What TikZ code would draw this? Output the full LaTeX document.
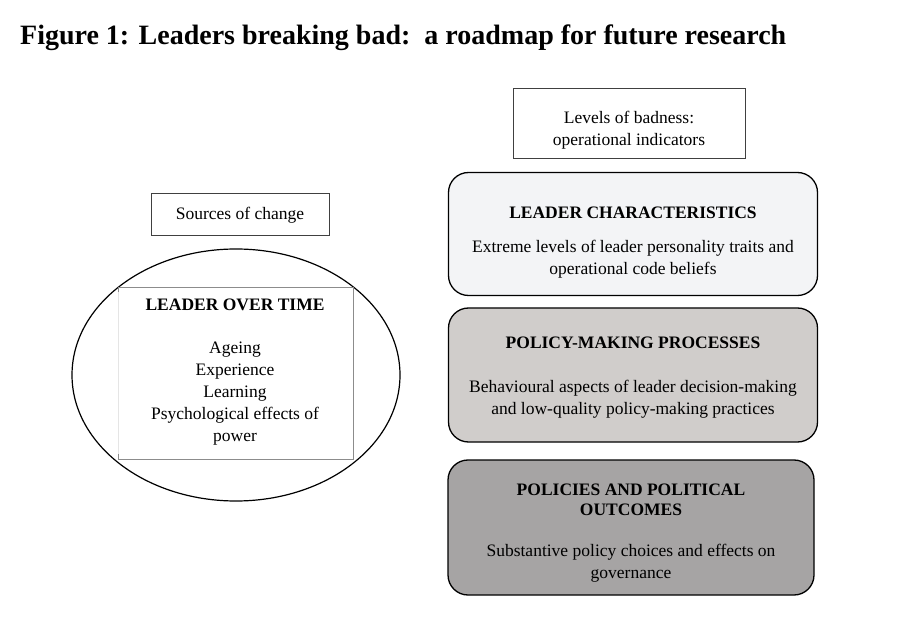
\documentclass[tikz,border=0pt]{standalone}
\usepackage{fontspec}
\setmainfont{Liberation Serif}
\usetikzlibrary{shapes.geometric}
\definecolor{charfill}{HTML}{F3F4F6}
\definecolor{procfill}{HTML}{D0CDCB}
\definecolor{outfill}{HTML}{A6A4A4}
\begin{document}
\begin{tikzpicture}[x=1pt,y=-1pt,
  txt/.style={inner sep=0pt, align=center, font=\fontsize{17.5}{22}\selectfont},
  head/.style={inner sep=0pt, align=center, font=\fontsize{17.5}{20}\selectfont\bfseries},
  labelbox/.style={draw=black!75, line width=0.9pt, inner sep=0pt, outer sep=0pt},
  levelbox/.style={draw=black, line width=1.3pt, rounded corners=20pt,
    minimum width=369pt, inner sep=0pt, outer sep=0pt},
  frameline/.style={draw=black!45, line width=0.8pt},
]
\useasboundingbox (0,0) rectangle (897,617);

% heading
\node[anchor=base west, inner sep=0pt, font=\fontsize{28}{32}\selectfont\bfseries]
  (title) at (20,45) {Figure 1: Leaders breaking bad:\ \ a roadmap for future research};

% left column: sources of change
\node[labelbox, minimum width=178pt, minimum height=42pt] (srcbox) at (240,214) {};
\node[txt] (srctext) at (240,215) {Sources of change};

\node[draw, ellipse, line width=1.2pt, minimum width=328pt, minimum height=252pt,
  inner sep=0pt, outer sep=0pt] (time) at (236,375) {};
\node[minimum width=235pt, minimum height=172pt, inner sep=0pt, outer sep=0pt]
  (frame) at (235.5,373) {};
\draw[black!10, line width=0.6pt] (frame.north west) -- (frame.south west);
\draw[frameline] (frame.north west) -- (frame.north east)
  -- (frame.south east) -- (frame.south west);
\draw[frameline] (frame.north west) -- ++(0,5);
\draw[frameline] (frame.south west) -- ++(0,-5);
\node[head] (timehead) at (235,305) {LEADER OVER TIME};
\node[txt] (timetext) at (235,394)
  {Ageing\\Experience\\Learning\\Psychological effects of\\power};

% right column: levels of badness
\node[labelbox, minimum width=232pt, minimum height=70pt] (lvlbox) at (629,123) {};
\node[txt] (lvltext) at (629,130) {Levels of badness:\\operational indicators};

\node[levelbox, fill=charfill, minimum height=123pt] (charbox) at (633,234) {};
\node[head] (charhead) at (633,213) {LEADER CHARACTERISTICS};
\node[txt] (chartext) at (633,259)
  {Extreme levels of leader personality traits and\\operational code beliefs};

\node[levelbox, fill=procfill, minimum height=134pt] (procbox) at (633,375) {};
\node[head] (prochead) at (633,343) {POLICY-MAKING PROCESSES};
\node[txt] (proctext) at (633,399)
  {Behavioural aspects of leader decision-making\\and low-quality policy-making practices};

\node[levelbox, fill=outfill, minimum width=366pt, minimum height=135pt] (outbox) at (631,527.5) {};
\node[head] (outhead) at (631,500) {POLICIES AND POLITICAL\\OUTCOMES};
\node[txt] (outtext) at (631,563)
  {Substantive policy choices and effects on\\governance};
\end{tikzpicture}
\end{document}
